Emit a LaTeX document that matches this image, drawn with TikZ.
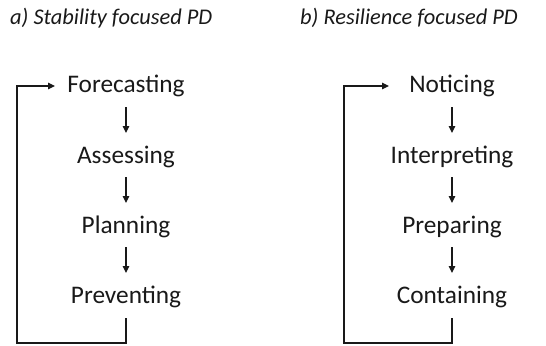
\documentclass[tikz,border=0pt]{standalone}
\usepackage{fontspec}
\setmainfont{Carlito}
\usetikzlibrary{arrows.meta}
\begin{document}
\begin{tikzpicture}[x=1bp,y=-1bp,
  stage/.style={font=\fontsize{25.4}{28}\selectfont, text=black!90, inner sep=0pt},
  heading/.style={font=\fontsize{22.5}{26}\selectfont\itshape, text=black!90, inner sep=0pt, anchor=west},
  flow/.style={draw=black!90, line width=1.2bp, -{Triangle[length=7bp,width=6.5bp]}},
  loop/.style={draw=black!90, line width=1.2bp}]
\useasboundingbox (0,0) rectangle (546,345);

% headings
\node[heading] (ha) at (10,18) {a) Stability focused PD};
\node[heading] (hb) at (300,18) {b) Resilience focused PD};

% stability cycle
\node[stage] (f) at (126,86) {Forecasting};
\node[stage] (a) at (126,157) {Assessing};
\node[stage] (p) at (126,227) {Planning};
\node[stage] (v) at (126,297) {Preventing};
\draw[flow] (126,107) -- (126,133);
\draw[flow] (126,177) -- (126,203);
\draw[flow] (126,247) -- (126,273);
\draw[loop] (126,318) -- (126,343) -- (17,343) -- (17,86);
\draw[flow] (16.4,86) -- (55,86);

% resilience cycle
\node[stage] (n) at (452,86) {Noticing};
\node[stage] (i) at (452,157) {Interpreting};
\node[stage] (r) at (452,227) {Preparing};
\node[stage] (c) at (452,297) {Containing};
\draw[flow] (452,107) -- (452,133);
\draw[flow] (452,177) -- (452,203);
\draw[flow] (452,247) -- (452,273);
\draw[loop] (452,318) -- (452,343) -- (344,343) -- (344,86);
\draw[flow] (343.4,86) -- (389,86);
\end{tikzpicture}
\end{document}
